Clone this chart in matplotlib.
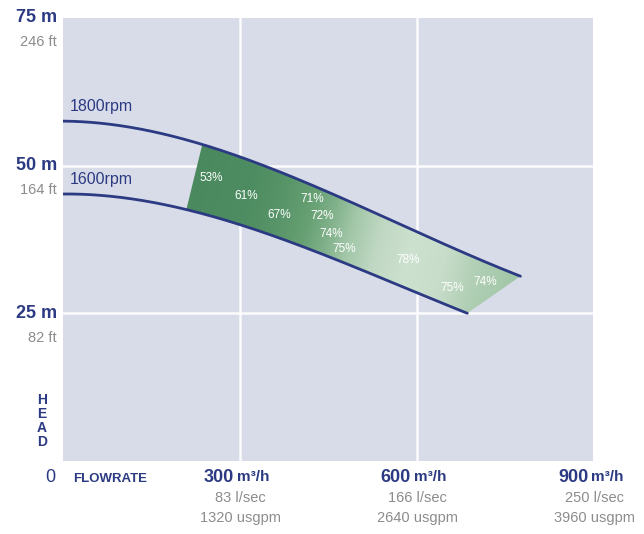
import numpy as np
import matplotlib
matplotlib.use("Agg")
import matplotlib.pyplot as plt
from matplotlib.colors import LinearSegmentedColormap
from matplotlib.path import Path
from matplotlib.patches import PathPatch
from matplotlib.transforms import blended_transform_factory

# ---------------- data ----------------
flow_1800 = [0, 100, 200, 300, 400, 500, 600, 700, 775]
head_1800 = [57.5, 56.8, 54.6, 51.5, 47.6, 43.2, 38.8, 34.5, 31.2]
flow_1600 = [0, 100, 200, 300, 400, 500, 600, 685]
head_1600 = [45.2, 44.6, 42.8, 40.0, 36.5, 32.6, 28.5, 25.0]
curve_labels = ["1800rpm", "1600rpm"]
curve_label_pos = [(12, 60.0), (12, 47.6)]

# operating band limits (flow) on each curve
band_start_1800, band_end_1800 = 236, 775
band_start_1600, band_end_1600 = 209, 685

eff_labels = ["53%", "61%", "67%", "71%", "72%", "74%", "75%", "78%", "75%", "74%"]
eff_flow = [251, 310, 366, 422, 439, 454, 476, 585, 659, 715]
eff_head = [47.9, 44.9, 41.6, 44.4, 41.5, 38.4, 35.9, 34.0, 29.3, 30.3]

y_ticks = [25, 50, 75]
y_labels_m = ["25 m", "50 m", "75 m"]
y_labels_ft = ["82 ft", "164 ft", "246 ft"]
x_ticks = [300, 600, 900]
x_labels_main = ["300", "600", "900"]
x_unit = "m³/h"
x_labels_lsec = ["83 l/sec", "166 l/sec", "250 l/sec"]
x_labels_gpm = ["1320 usgpm", "2640 usgpm", "3960 usgpm"]

# ---------------- style ----------------
NAVY = "#2b3a82"
GRAY = "#8c8c8c"
BG = "#d8dce8"
FONT = ["Liberation Sans Narrow", "Liberation Sans", "DejaVu Sans"]
plt.rcParams["font.family"] = FONT

fig = plt.figure(figsize=(6.44, 5.34), dpi=100)
ax = fig.add_axes([63 / 644, (534 - 461) / 534, 530 / 644, 443 / 534])
ax.set_xlim(0, 898)
ax.set_ylim(0, 75)
ax.set_facecolor(BG)
for s in ax.spines.values():
    s.set_visible(False)
ax.set_xticks([])
ax.set_yticks([])

# grid lines
for xv in x_ticks[:2]:
    ax.axvline(xv, color="white", lw=1.8, alpha=0.9, zorder=1)
for yv in y_ticks[:2]:
    ax.axhline(yv, color="white", lw=1.8, alpha=0.9, zorder=1)

# smooth curve helpers
p1800 = np.polyfit(flow_1800, head_1800, 3)
p1600 = np.polyfit(flow_1600, head_1600, 3)
q1 = np.linspace(0, flow_1800[-1], 300)
q2 = np.linspace(0, flow_1600[-1], 300)

# shaded efficiency band
qa = np.linspace(band_start_1800, band_end_1800, 200)
qb = np.linspace(band_start_1600, band_end_1600, 200)
top = np.column_stack([qa, np.polyval(p1800, qa)])
bot = np.column_stack([qb, np.polyval(p1600, qb)])[::-1]
verts = np.vstack([top, bot, top[:1]])
path = Path(verts)
patch = PathPatch(path, facecolor="none", edgecolor="none")
ax.add_patch(patch)

stops = [(100, "#4a895d"), (200, "#4e8d61"), (260, "#589568"), (310, "#66a073"),
         (350, "#80b18a"), (390, "#a2c7a8"), (440, "#c0d8c3"), (500, "#cde1cf"),
         (560, "#c8ddca"), (620, "#b0cfb4"), (700, "#a0c5a6")]
umin, umax = stops[0][0], stops[-1][0]
cmap = LinearSegmentedColormap.from_list(
    "eff", [((u - umin) / (umax - umin), c) for u, c in stops])
gx = np.linspace(150, 800, 600)
gy = np.linspace(20, 60, 300)
GX, GY = np.meshgrid(gx, gy)
U = GX - 2.53 * GY
im = ax.imshow(U, extent=[gx[0], gx[-1], gy[0], gy[-1]], origin="lower",
               cmap=cmap, vmin=umin, vmax=umax, aspect="auto", zorder=2,
               interpolation="bilinear")
im.set_clip_path(patch)

# curves
ax.plot(q1, np.polyval(p1800, q1), color=NAVY, lw=2.0, zorder=3, solid_capstyle="round")
ax.plot(q2, np.polyval(p1600, q2), color=NAVY, lw=2.0, zorder=3, solid_capstyle="round")
for lab, (x, y) in zip(curve_labels, curve_label_pos):
    ax.text(x, y, lab, color=NAVY, fontsize=11.5, va="center", ha="left", zorder=4)

for lab, x, y in zip(eff_labels, eff_flow, eff_head):
    ax.text(x, y, lab, color="white", fontsize=8.5,
            ha="center", va="center", zorder=4)

# y labels
ty = blended_transform_factory(fig.transFigure, ax.transData)
for yv, lm, lf in zip(y_ticks, y_labels_m, y_labels_ft):
    ax.text(57 / 644, yv, lm, transform=ty, ha="right", va="center",
            color=NAVY, fontsize=13, fontweight="bold", clip_on=False)
    ax.text(57 / 644, yv - 4.1, lf, transform=ty, ha="right", va="center",
            color=GRAY, fontsize=10.5, clip_on=False)

# x labels
tx = blended_transform_factory(ax.transData, fig.transFigure)
for xv, lm, ll, lg in zip(x_ticks, x_labels_main, x_labels_lsec, x_labels_gpm):
    ax.annotate(lm, (xv, (534 - 478) / 534), xycoords=tx,
                xytext=(-6, 0), textcoords="offset pixels",
                ha="right", va="center", color=NAVY, fontsize=13,
                fontweight="bold", annotation_clip=False)
    ax.annotate(x_unit, (xv, (534 - 477) / 534), xycoords=tx,
                xytext=(-3, 0), textcoords="offset pixels",
                ha="left", va="center", color=NAVY, fontsize=11,
                fontweight="bold", annotation_clip=False)
    ax.text(xv, (534 - 498) / 534, ll, transform=tx, ha="center", va="center",
            color=GRAY, fontsize=10.5, clip_on=False)
    ax.text(xv, (534 - 518) / 534, lg, transform=tx, ha="center", va="center",
            color=GRAY, fontsize=10.5, clip_on=False)

fig.text(50 / 644, (534 - 478) / 534, "0", color=NAVY, fontsize=13,
         ha="center", va="center")
fig.text(73 / 644, (534 - 479) / 534, "FLOWRATE", color=NAVY, fontsize=9.5,
         fontweight="bold", ha="left", va="center")
fig.text(42 / 644, (534 - 421) / 534, "H\nE\nA\nD", color=NAVY, fontsize=10,
         fontweight="bold", ha="center", va="center", linespacing=1.0)

fig.savefig("out.png", dpi=100, facecolor="white")
